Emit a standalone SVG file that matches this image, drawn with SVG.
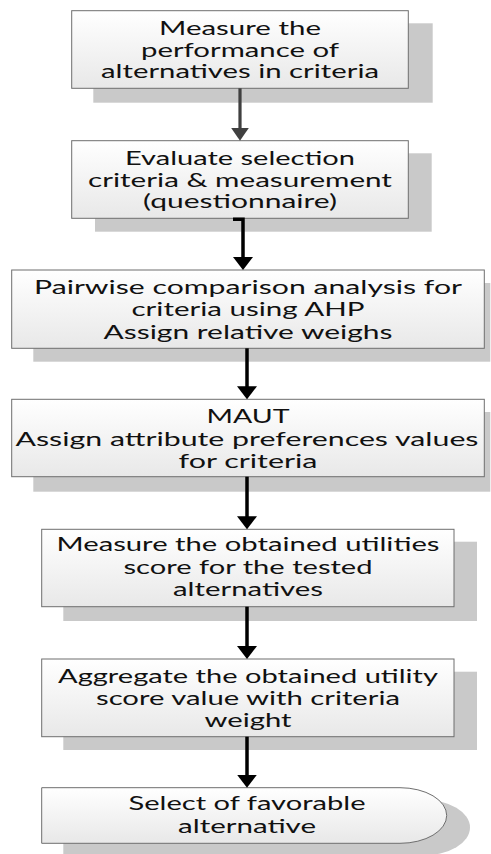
<svg xmlns="http://www.w3.org/2000/svg" width="491" height="854" viewBox="0 0 491 854">
<defs>
<linearGradient id="fill" x1="0" y1="0" x2="0" y2="1">
<stop offset="0" stop-color="#ffffff"/>
<stop offset="1" stop-color="#e8e8e8"/>
</linearGradient>
<marker id="ahB" markerUnits="userSpaceOnUse" viewBox="0 0 13 20" markerWidth="13" markerHeight="20" refX="3" refY="10" orient="auto">
<path d="M0,0 L13,10 L0,20 Z" fill="#000"/>
</marker>
<marker id="ahG" markerUnits="userSpaceOnUse" viewBox="0 0 13 18" markerWidth="13" markerHeight="18" refX="3" refY="9" orient="auto">
<path d="M0,0 L13,9 L0,18 Z" fill="#404040"/>
</marker>
</defs>
<style>
.sh{fill:#c9c9c9;stroke:none}
.bx{fill:url(#fill);stroke:#6e6e6e;stroke-width:1}
.t{font-family:Lato,"Open Sans","DejaVu Sans",sans-serif;font-size:18.5px;fill:#111;text-anchor:middle}
.c{fill:none;stroke:#000;stroke-width:3.5}
.cg{fill:none;stroke:#404040;stroke-width:3.2}
</style>

<g id="n1">
<rect class="sh" x="93.3" y="23.3" width="339.4" height="79.4"/>
<rect class="bx" x="71.7" y="10.7" width="336.6" height="77.6"/>
<text class="t" x="240" y="34.8" textLength="162" lengthAdjust="spacingAndGlyphs">Measure the</text>
<text class="t" x="240" y="56.5" textLength="198" lengthAdjust="spacingAndGlyphs">performance of</text>
<text class="t" x="240" y="78.2" textLength="278" lengthAdjust="spacingAndGlyphs">alternatives in criteria</text>
</g>

<g id="n2">
<rect class="sh" x="95" y="153.3" width="336.7" height="78.4"/>
<rect class="bx" x="71.7" y="140.7" width="336.6" height="77.6"/>
<text class="t" x="240" y="164.8" textLength="230" lengthAdjust="spacingAndGlyphs">Evaluate selection</text>
<text class="t" x="240" y="186.5" textLength="304" lengthAdjust="spacingAndGlyphs">criteria &amp; measurement</text>
<text class="t" x="240" y="208.2" textLength="194" lengthAdjust="spacingAndGlyphs">(questionnaire)</text>
</g>

<g id="n3">
<rect class="sh" x="33.3" y="283" width="457" height="78.7"/>
<rect class="bx" x="11.7" y="270" width="472.6" height="78.3"/>
<text class="t" x="248" y="293.7" textLength="428" lengthAdjust="spacingAndGlyphs">Pairwise comparison analysis for</text>
<text class="t" x="248" y="316.2" textLength="233" lengthAdjust="spacingAndGlyphs">criteria using AHP</text>
<text class="t" x="248" y="338.7" textLength="289" lengthAdjust="spacingAndGlyphs">Assign relative weighs</text>
</g>

<g id="n4">
<rect class="sh" x="33.3" y="412" width="457" height="79.7"/>
<rect class="bx" x="11.7" y="399.3" width="472.6" height="77.4"/>
<text class="t" x="248" y="422.5" textLength="83" lengthAdjust="spacingAndGlyphs">MAUT</text>
<text class="t" x="247" y="445.5" textLength="463" lengthAdjust="spacingAndGlyphs">Assign attribute preferences values</text>
<text class="t" x="248" y="468" textLength="139" lengthAdjust="spacingAndGlyphs">for criteria</text>
</g>

<g id="n5">
<rect class="sh" x="63.3" y="541.7" width="413.7" height="79.3"/>
<rect class="bx" x="41.7" y="529.3" width="412.3" height="77.4"/>
<text class="t" x="248" y="551" textLength="383" lengthAdjust="spacingAndGlyphs">Measure the obtained utilities</text>
<text class="t" x="248" y="573.5" textLength="249" lengthAdjust="spacingAndGlyphs">score for the tested</text>
<text class="t" x="248" y="596" textLength="150" lengthAdjust="spacingAndGlyphs">alternatives</text>
</g>

<g id="n6">
<rect class="sh" x="63.3" y="671.7" width="413.7" height="78.3"/>
<rect class="bx" x="41.7" y="659" width="412.3" height="77.7"/>
<text class="t" x="248" y="682.5" textLength="380" lengthAdjust="spacingAndGlyphs">Aggregate the obtained utility</text>
<text class="t" x="248" y="705" textLength="304" lengthAdjust="spacingAndGlyphs">score value with criteria</text>
<text class="t" x="248" y="727" textLength="87" lengthAdjust="spacingAndGlyphs">weight</text>
</g>

<g id="n7">
<path class="sh" d="M63.3,799.7 H423.3 A46.7,27.8 0 0 1 423.3,855.3 H63.3 Z"/>
<path class="bx" d="M41.7,787.7 H400 A46.7,27.8 0 0 1 400,843.3 H41.7 Z"/>
<text class="t" x="247" y="810" textLength="237" lengthAdjust="spacingAndGlyphs">Select of favorable</text>
<text class="t" x="247" y="832.7" textLength="138" lengthAdjust="spacingAndGlyphs">alternative</text>
</g>

<g id="connectors">
<path class="cg" d="M240,88.3 V130.7" marker-end="url(#ahG)"/>
<path class="c" d="M233,219.3 H243 V260" marker-end="url(#ahB)"/>
<path class="c" d="M247,348.3 V389.3" marker-end="url(#ahB)"/>
<path class="c" d="M247,476.7 V519.3" marker-end="url(#ahB)"/>
<path class="c" d="M247,606.7 V649" marker-end="url(#ahB)"/>
<path class="c" d="M247,736.7 V777.7" marker-end="url(#ahB)"/>
</g>
</svg>
